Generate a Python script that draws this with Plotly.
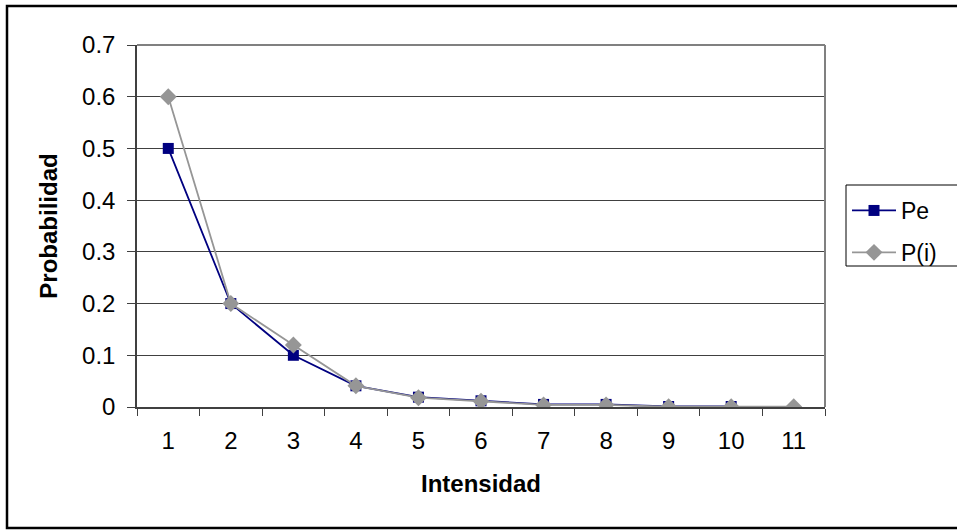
import plotly.graph_objects as go

# Data
intensidad = ["1", "2", "3", "4", "5", "6", "7", "8", "9", "10", "11"]
pe = [0.5, 0.2, 0.1, 0.041, 0.019, 0.012, 0.005, 0.005, 0.001, 0.001]
p_i = [0.6, 0.2, 0.12, 0.041, 0.018, 0.011, 0.004, 0.004, 0.0006, 0.0006, 0.0006]
y_ticks = [0, 0.1, 0.2, 0.3, 0.4, 0.5, 0.6, 0.7]

W, H = 957, 531
L, R, T, B = 137, 825, 45, 407  # plot area in pixels


def px(x):
    return (x - L) / (R - L)


def py(y):
    return (B - y) / (B - T)


FONT = "Liberation Sans, Arial, sans-serif"

fig = go.Figure()
fig.add_trace(go.Scatter(
    x=intensidad[:len(pe)], y=pe, name="Pe", mode="lines+markers",
    legendgroup="pe",
    line=dict(color="#000080", width=1.8),
    marker=dict(symbol="square", size=11, color="#000080"),
))
fig.add_trace(go.Scatter(
    x=intensidad, y=p_i, name="P(i)", mode="lines+markers",
    legendgroup="pi",
    line=dict(color="#969696", width=1.8),
    marker=dict(symbol="diamond", size=13, color="#969696"),
))

shapes = [
    # outer chart frame
    dict(type="rect", xref="paper", yref="paper",
         x0=px(7), x1=px(962), y0=py(6), y1=py(528),
         line=dict(color="black", width=2.5), layer="below"),
    # plot area border (top and right)
    dict(type="line", xref="paper", yref="paper", x0=0, x1=1, y0=1, y1=1,
         line=dict(color="#808080", width=2)),
    dict(type="line", xref="paper", yref="paper", x0=1, x1=1, y0=0, y1=1,
         line=dict(color="#808080", width=2)),
    # legend frame
    dict(type="rect", xref="paper", yref="paper",
         x0=px(846), x1=px(965), y0=py(185), y1=py(266),
         line=dict(color="black", width=1)),
]

fig.update_layout(
    width=W, height=H,
    margin=dict(l=L, r=W - R, t=T, b=H - B),
    paper_bgcolor="white", plot_bgcolor="white",
    font=dict(family=FONT, size=24, color="black"),
    shapes=shapes,
    showlegend=True,
    legend=dict(
        x=px(847), y=py(189), xanchor="left", yanchor="top",
        bgcolor="rgba(0,0,0,0)", borderwidth=0,
        font=dict(family=FONT, size=23, color="black"),
        tracegroupgap=9, itemwidth=44,
    ),
    xaxis=dict(
        type="category", categoryorder="array", categoryarray=intensidad,
        range=[-0.5, 10.5], tickson="boundaries",
        ticks="outside", ticklen=7, tickcolor="#404040", tickwidth=1,
        showline=True, linecolor="#404040", linewidth=1.5,
        showgrid=False, zeroline=False,
        tickfont=dict(size=24), ticklabelstandoff=11,
        title=dict(text="<b>Intensidad</b>", font=dict(size=24), standoff=23),
    ),
    yaxis=dict(
        range=[0, 0.7], tickvals=y_ticks, ticktext=[f"{v:g}" for v in y_ticks],
        ticks="outside", ticklen=8, tickcolor="#404040", tickwidth=1,
        showline=True, linecolor="#404040", linewidth=1.5,
        showgrid=True, gridcolor="#404040", gridwidth=1,
        zeroline=False,
        tickfont=dict(size=24), ticklabelstandoff=7,
        title=dict(text="<b>Probabilidad</b>", font=dict(size=24), standoff=18),
    ),
)

fig.write_html("out.html")
